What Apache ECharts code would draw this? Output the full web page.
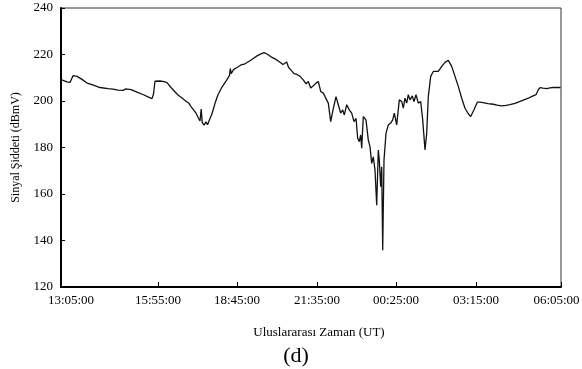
<!DOCTYPE html>
<html>
<head>
<meta charset="utf-8">
<script src="https://cdn.jsdelivr.net/npm/echarts@6/dist/echarts.min.js"></script>
<style>
  html, body { margin: 0; padding: 0; background: #fff; }
  #chart { width: 582px; height: 369px; }
</style>
</head>
<body>
<div id="chart"></div>
<script>
// sample index along the record (0..500) and signal strength (dBmV)
const sampleIdx = [
  0, 2, 6, 9, 10.5, 12, 13.5, 16, 21, 26, 31, 39, 47, 52, 57, 62, 65, 67, 70, 76, 82, 87, 91, 92.5, 94, 96,
  99, 103, 106, 110, 113, 117, 121, 125, 128, 130, 132, 135, 137, 139, 140.2, 141.2, 143, 145, 146.5, 149,
  151, 154, 157, 161, 165, 168.5, 169.3, 170.2, 172.5, 176, 180, 184, 189, 193, 196, 200, 203, 206, 210,
  214, 218, 222, 224, 225.7, 227.5, 230, 233, 236,
  239, 242.3, 245, 247.3, 249.7, 252.3, 255, 257.3, 259.7, 262.3, 264, 267.3, 269.7, 271.7, 275, 277.3,
  279.7, 281.7, 283.3, 285.7, 288.3, 290.7, 293, 295, 296.7, 298.3, 299.7, 300.7, 302.3, 305, 307.3, 309,
  310.7, 312.3, 314, 315.7, 317.3, 318.3, 319.7, 320.7, 321.7, 323, 325, 327.3, 329.7, 331.7, 333.3, 335.7,
  338.3, 340.7, 342.3, 344, 345.7, 347.3, 349, 351.3, 353, 355, 357.3, 359.7, 361.7, 364, 365.7, 367.3,
  369.7, 372.3, 377.3,
  380.7, 384, 387.3, 390.7, 394, 397.3, 400.7, 404, 407.3, 409.7, 413, 416.3, 419, 422, 427, 432.3, 436,
  440.7, 445, 449, 454, 459, 463, 467.3, 471, 475, 477.3, 479, 482, 485.7, 489, 492.3, 496, 499.5
];
const signal = [
  209.2, 208.8, 208.2, 208.0, 208.0, 210.9, 211.0, 210.6, 209.3, 207.7, 207.0, 205.8, 205.3, 205.1, 204.7,
  204.6, 205.2, 205.5, 204.9, 203.8, 202.8, 201.8, 201.0, 203.0, 208.5, 209.1, 208.6, 208.3, 207.9, 205.8,
  204.4, 202.6, 201.3, 199.9, 199.0, 197.6, 196.5, 194.8, 193.0, 191.4, 196.5, 190.8, 189.6, 191.0, 189.8,
  192.5, 194.5, 199.0, 202.7, 206.0, 208.5, 211.0, 214.0, 211.8, 213.5, 214.4, 215.5, 216.0, 217.3, 218.5,
  219.4, 220.3, 220.8, 220.2, 219.0, 218.1, 217.0, 215.7, 215.1, 216.8, 214.5, 213.3, 211.8, 211.4,
  210.6, 209.1, 207.4, 208.4, 205.6, 206.6, 207.7, 208.4, 204.1, 203.4, 201.9, 199.1, 191.1, 195.5, 201.9,
  198.4, 194.8, 196.2, 194.0, 198.4, 196.2, 194.8, 191.1, 192.6, 184.0, 182.5, 185.4, 179.7, 193.3, 191.9,
  183.2, 180.4, 173.2, 176.0, 170.3, 155.2, 178.9, 174.6, 163.1, 171.7, 135.8, 174.6, 186.1, 189.7, 190.5,
  191.9, 194.8, 189.7, 200.5, 199.8, 196.9, 201.2, 199.1, 202.7, 200.5, 202.2, 199.8, 202.7, 199.1, 199.8,
  191.9, 178.9, 186.1, 201.9, 210.6, 212.7, 212.7,
  214.9, 216.6, 217.5, 214.9, 210.6, 206.3, 201.2, 196.9, 194.5, 193.3, 196.2, 199.5, 199.5, 199.3, 198.9,
  198.6, 198.2, 197.9, 198.1, 198.4, 199.0, 199.8, 200.5, 201.2, 202.0, 202.7, 204.8, 205.8, 205.5, 205.3,
  205.6, 205.8, 205.8, 205.8
];

// x tick positions (sample index) and their time labels
const tickPos = [0, 97, 176, 256, 335, 415, 500];
const tickLabels = ['13:05:00', '15:55:00', '18:45:00', '21:35:00', '00:25:00', '03:15:00', '06:05:00'];

const FONT = '"Liberation Serif", "Times New Roman", serif';

const chart = echarts.init(document.getElementById('chart'));
chart.setOption({
  animation: false,
  backgroundColor: '#fff',
  grid: {
    left: 61, right: 21, top: 8, bottom: 82,
    show: true, borderColor: '#333', borderWidth: 1,
    containLabel: false, outerBoundsMode: 'none'
  },
  xAxis: {
    type: 'value',
    min: 0,
    max: 500,
    splitLine: { show: false },
    axisLine: { lineStyle: { color: '#000', width: 2 } },
    axisTick: { inside: true, length: 5, customValues: tickPos, lineStyle: { color: '#000' } },
    axisLabel: {
      customValues: tickPos,
      margin: 7,
      color: '#000',
      fontFamily: FONT,
      fontSize: 13,
      formatter: v => {
        const i = tickPos.indexOf(v);
        if (i === 0) return '{first|' + tickLabels[i] + '}';
        if (i === tickPos.length - 1) return '{last|' + tickLabels[i] + '}';
        return tickLabels[i];
      },
      rich: {
        first: { fontFamily: FONT, fontSize: 13, color: '#000', padding: [0, 0, 0, 20] },
        last: { fontFamily: FONT, fontSize: 13, color: '#000', padding: [0, 9, 0, 0] }
      }
    }
  },
  yAxis: {
    type: 'value',
    min: 120,
    max: 240,
    interval: 20,
    name: 'Sinyal Şiddeti (dBmV)',
    nameLocation: 'middle',
    nameGap: 39,
    nameTextStyle: { fontFamily: FONT, fontSize: 12, color: '#000' },
    splitLine: { show: false },
    axisLine: { show: true, lineStyle: { color: '#000', width: 2 } },
    axisTick: { show: true, inside: true, length: 4, lineStyle: { color: '#000' } },
    axisLabel: { margin: 8, color: '#000', fontFamily: FONT, fontSize: 13 }
  },
  graphic: [
    {
      type: 'text', x: 319, y: 333,
      style: { text: 'Uluslararası Zaman (UT)', fontFamily: FONT, fontSize: 13, fill: '#000',
               align: 'center', verticalAlign: 'middle', textAlign: 'center', textVerticalAlign: 'middle' }
    },
    {
      type: 'text', x: 296, y: 356,
      style: { text: '(d)', fontFamily: FONT, fontSize: 22, fill: '#000',
               align: 'center', verticalAlign: 'middle', textAlign: 'center', textVerticalAlign: 'middle' }
    }
  ],
  series: [{
    type: 'line',
    data: sampleIdx.map((x, i) => [x, signal[i]]),
    showSymbol: false,
    lineStyle: { color: '#111', width: 1.3 }
  }]
});
</script>
</body>
</html>
